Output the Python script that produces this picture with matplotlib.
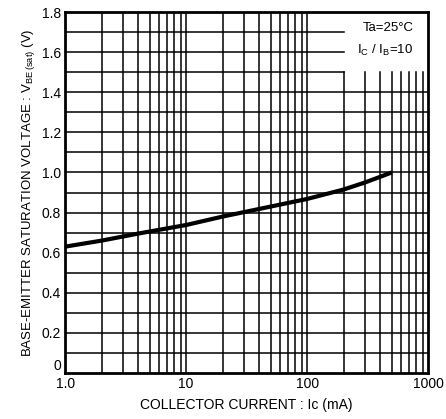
import numpy as np
import matplotlib
matplotlib.use('Agg')
import matplotlib.pyplot as plt
import matplotlib.transforms as mtransforms

plt.rcParams['font.family'] = ['Liberation Sans', 'DejaVu Sans']

# VBE(sat) vs Ic
ic_ma = [1.0, 2.0, 4.0, 10.0, 20.0, 50.0, 100.0, 200.0, 300.0, 500.0]
vbe_sat = [0.63, 0.66, 0.695, 0.738, 0.78, 0.83, 0.868, 0.915, 0.95, 1.0]

x_ticks = [1, 10, 100, 1000]
x_labels = ['1.0', '10', '100', '1000']
y_ticks = [0, 0.2, 0.4, 0.6, 0.8, 1.0, 1.2, 1.4, 1.6, 1.8]
y_labels = ['0', '0.2', '0.4', '0.6', '0.8', '1.0', '1.2', '1.4', '1.6', '1.8']

fig = plt.figure(figsize=(4.46, 4.19), dpi=100)
ax = fig.add_axes([0.146, 0.11, 0.814, 0.861])
ax.set_xscale('log')
ax.set_xlim(1, 1000)
ax.set_ylim(0, 1.8)

# grid, with a blank corner top right for the conditions text
box_x, box_y = 200, 1.5
grid_x = [m * 10 ** d for d in range(3) for m in range(1, 10)][1:]
for gx in grid_x:
    top = box_y if gx >= box_x else 1.8
    ax.plot([gx, gx], [0, top], color='black', lw=1.1, zorder=1)
for gy in np.arange(0.1, 1.8, 0.1):
    right = box_x if gy >= box_y - 1e-9 else 1000
    ax.plot([1, right], [gy, gy], color='black', lw=1.1, zorder=1)

ax.plot(ic_ma, vbe_sat, color='black', lw=3, zorder=3, solid_capstyle='butt')

ax.text(0.96, 0.955, 'Ta=25°C', transform=ax.transAxes, ha='right', va='center', fontsize=9.5)
ax.text(0.96, 0.895, 'I$_{\\mathregular{C}}$ / I$_{\\mathregular{B}}$=10', transform=ax.transAxes,
        ha='right', va='center', fontsize=9.5)

ax.set_xticks(x_ticks)
ax.set_xticklabels(x_labels)
ax.set_xticks([], minor=True)
ax.set_yticks(y_ticks)
ax.set_yticklabels(y_labels)
ax.tick_params(length=0, labelsize=10, pad=3)
# the "0" sits a little above the bottom edge so it clears "1.0"
lbl0 = ax.get_yticklabels()[0]
lbl0.set_transform(lbl0.get_transform() + mtransforms.ScaledTranslation(0, 6 / 72, fig.dpi_scale_trans))

ax.set_xlabel('COLLECTOR CURRENT : Ic (mA)', fontsize=10, labelpad=5)
ax.set_ylabel('BASE-EMITTER SATURATION VOLTAGE : V$_{\\mathregular{BE\\,(sat)}}$ (V)', fontsize=9.5, labelpad=3)
for s in ax.spines.values():
    s.set_linewidth(2)
    s.set_zorder(4)

fig.savefig('out.png', dpi=100)
